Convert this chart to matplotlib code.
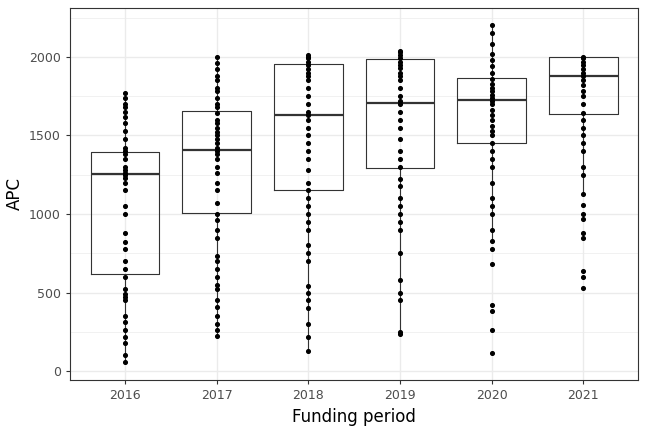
import numpy as np
import matplotlib.pyplot as plt

years = ['2016', '2017', '2018', '2019', '2020', '2021']
q1 = [618, 1006, 1153, 1293, 1452, 1637]
med = [1255, 1408, 1630, 1707, 1726, 1879]
q3 = [1395, 1656, 1955, 1987, 1866, 2000]
wlo = [60, 225, 130, 235, 850, 1130]
whi = [1770, 2000, 2010, 2040, 2200, 2000]

pts = [
    [60, 100, 180, 220, 260, 310, 350, 450, 470, 490, 520, 600, 650, 700, 780, 820, 880, 1000, 1050, 1150, 1200, 1230, 1250, 1260, 1280, 1300, 1350, 1380, 1400, 1420, 1480, 1530, 1580, 1620, 1650, 1680, 1700, 1740, 1770],
    [225, 260, 300, 350, 410, 450, 520, 550, 600, 650, 700, 730, 850, 900, 960, 1000, 1070, 1150, 1200, 1260, 1300, 1350, 1380, 1400, 1420, 1450, 1480, 1500, 1520, 1550, 1580, 1600, 1640, 1680, 1700, 1740, 1780, 1800, 1850, 1880, 1920, 1960, 2000],
    [130, 220, 300, 400, 450, 500, 540, 700, 750, 800, 900, 950, 1000, 1050, 1100, 1150, 1200, 1280, 1350, 1400, 1450, 1500, 1550, 1600, 1630, 1650, 1700, 1750, 1800, 1850, 1880, 1900, 1920, 1950, 1970, 1990, 2000, 2010],
    [235, 250, 450, 500, 580, 750, 900, 950, 1000, 1050, 1100, 1180, 1220, 1300, 1350, 1400, 1480, 1550, 1600, 1650, 1700, 1720, 1750, 1800, 1850, 1880, 1900, 1930, 1950, 1970, 1990, 2010, 2030, 2040],
    [115, 260, 380, 420, 680, 780, 830, 900, 1000, 1050, 1100, 1200, 1300, 1350, 1400, 1450, 1500, 1530, 1560, 1600, 1630, 1660, 1700, 1720, 1740, 1760, 1780, 1800, 1830, 1860, 1900, 1940, 1980, 2020, 2080, 2150, 2200],
    [530, 600, 640, 850, 880, 970, 1000, 1060, 1130, 1250, 1300, 1400, 1450, 1500, 1550, 1600, 1640, 1700, 1750, 1780, 1820, 1850, 1880, 1900, 1920, 1950, 1970, 1990, 2000],
]

fig, ax = plt.subplots(figsize=(6.48, 4.32), dpi=100)
fig.subplots_adjust(left=0.108, right=0.985, top=0.982, bottom=0.12)

stats = [dict(q1=q1[i], med=med[i], q3=q3[i], whislo=wlo[i], whishi=whi[i], fliers=[])
         for i in range(len(years))]
ax.bxp(stats, positions=range(1, 7), widths=0.75, showcaps=False,
       boxprops=dict(color='#333333', linewidth=0.8),
       whiskerprops=dict(color='#333333', linewidth=0.8),
       medianprops=dict(color='#333333', linewidth=1.6), zorder=2)
for i, p in enumerate(pts):
    ax.scatter([i + 1] * len(p), p, s=7, color='black', zorder=3)

ax.set_xlim(0.4, 6.6)
ax.set_ylim(-57, 2312)
ax.set_xticks(range(1, 7))
ax.set_xticklabels(years)
ax.set_yticks([0, 500, 1000, 1500, 2000])
ax.set_yticks([250, 750, 1250, 1750, 2250], minor=True)
ax.grid(True, which='major', color='#ebebeb', linewidth=1.0, zorder=0)
ax.grid(True, which='minor', axis='y', color='#ebebeb', linewidth=0.5, zorder=0)
ax.set_axisbelow(True)
for s in ax.spines.values():
    s.set_color('#333333')
    s.set_linewidth(0.8)
ax.tick_params(which='both', colors='#333333', labelcolor='#4d4d4d', labelsize=9, length=3)
ax.tick_params(which='minor', length=0)
ax.set_xlabel('Funding period', fontsize=12)
ax.set_ylabel('APC', fontsize=12)
fig.savefig('out.png')
